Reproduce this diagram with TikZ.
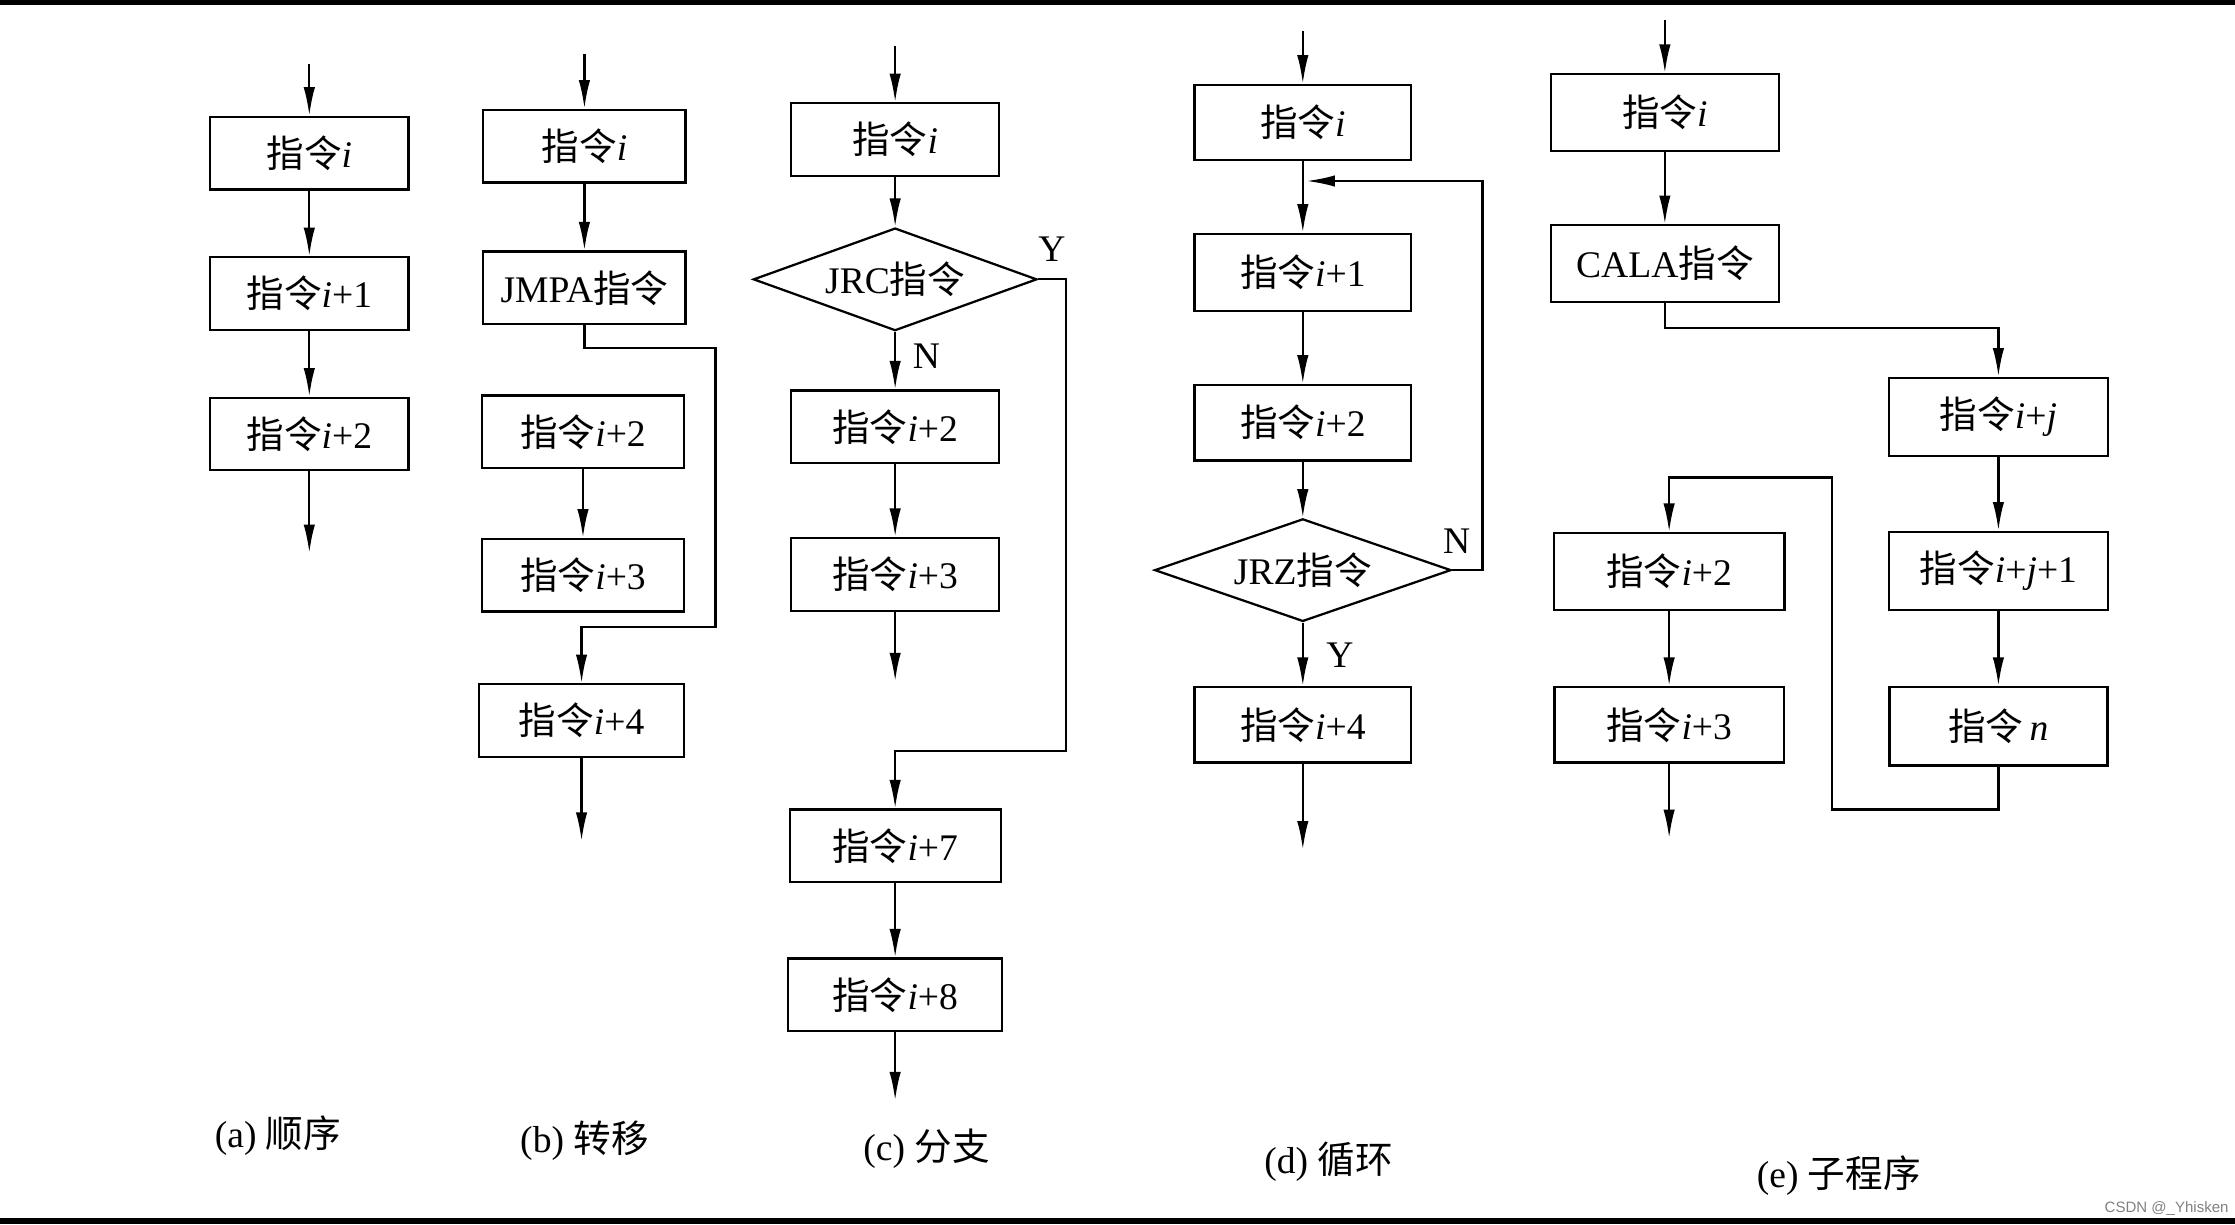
\documentclass[tikz,border=0pt]{standalone}
\usepackage{fontspec}
\setmainfont{Liberation Serif}
\newfontfamily\cjk{Noto Sans CJK SC}
\newfontfamily\wmfont{Liberation Sans}
\usepackage{tikz}
\usetikzlibrary{arrows.meta}
\usetikzlibrary{positioning}
\usetikzlibrary{shapes.geometric}

\newcommand{\zl}{{\cjk 指令}}

\tikzset{
    instr/.style={draw,rectangle,line width=0.9pt,minimum height=1.02cm,inner sep=2pt},
    cond/.style={draw,diamond,aspect=2.8,line width=0.9pt,inner sep=0pt},
    link/.style={line width=0.9pt},
    arr/.style={link,-{Latex[length=4mm,width=1.6mm]}}
}

\begin{document}
\begin{tikzpicture}[font=\fontsize{15}{18}\selectfont]
        \useasboundingbox (0,0) rectangle (31.36,17.18);
        \fill (0,17.11) rectangle (31.36,17.18);
        \fill (0,0) rectangle (31.36,0.09);

        \node[instr,minimum width=2.78cm] (a1) at (4.34,15.03) {\zl\textit{i}};
        \node[instr,minimum width=2.78cm] (a2) at (4.34,13.06) {\zl\textit{i}+1};
        \node[instr,minimum width=2.78cm] (a3) at (4.34,11.09) {\zl\textit{i}+2};
        \coordinate (a0) at (4.34,16.28);
        \coordinate (a4) at (4.34,9.42);
        \draw[arr] (a0) -- (a1);
        \draw[arr] (a1) -- (a2);
        \draw[arr] (a2) -- (a3);
        \draw[arr] (a3) -- (a4);
        \node (capa) at (3.9,1.24) {(a) {\cjk 顺序}};

        \node[instr,minimum width=2.84cm] (b1) at (8.2,15.13) {\zl\textit{i}};
        \node[instr,minimum width=2.84cm] (b2) at (8.2,13.14) {JMPA\zl};
        \node[instr,minimum width=2.84cm] (b3) at (8.18,11.12) {\zl\textit{i}+2};
        \node[instr,minimum width=2.84cm] (b4) at (8.18,9.11) {\zl\textit{i}+3};
        \node[instr,minimum width=2.88cm] (b5) at (8.16,7.07) {\zl\textit{i}+4};
        \coordinate (b0) at (8.2,16.42);
        \coordinate (b6) at (8.16,5.38);
        \coordinate (bj1) at (10.04,12.3);
        \coordinate (bj2) at (10.04,8.38);
        \draw[arr] (b0) -- (b1);
        \draw[arr] (b1) -- (b2);
        \draw[arr] (b2.south) |- (bj1) -- (bj2) -| (b5.north);
        \draw[arr] (b3) -- (b4);
        \draw[arr] (b5) -- (b6);
        \node (capb) at (8.2,1.18) {(b) {\cjk 转移}};

        \node[instr,minimum width=2.92cm] (c1) at (12.56,15.22) {\zl\textit{i}};
        \node[cond,minimum width=3.98cm,minimum height=1.44cm] (c2) at (12.56,13.26) {JRC\zl};
        \node[instr,minimum width=2.92cm] (c3) at (12.56,11.19) {\zl\textit{i}+2};
        \node[instr,minimum width=2.92cm] (c4) at (12.56,9.12) {\zl\textit{i}+3};
        \node[instr,minimum width=2.96cm] (c6) at (12.56,5.31) {\zl\textit{i}+7};
        \node[instr,minimum width=3.0cm] (c7) at (12.56,3.22) {\zl\textit{i}+8};
        \coordinate (c0) at (12.56,16.54);
        \coordinate (c5) at (12.56,7.62);
        \coordinate (c8) at (12.56,1.74);
        \coordinate (cj) at (14.96,6.64);
        \draw[arr] (c0) -- (c1);
        \draw[arr] (c1) -- (c2);
        \draw[arr] (c2) -- (c3);
        \draw[arr] (c3) -- (c4);
        \draw[arr] (c4) -- (c5);
        \draw[arr] (c2.east) -| (cj) -| (c6.north);
        \draw[arr] (c6) -- (c7);
        \draw[arr] (c7) -- (c8);
        \node (cy) at (14.76,13.68) {Y};
        \node (cn) at (13.0,12.18) {N};
        \node (capc) at (13.0,1.06) {(c) {\cjk 分支}};

        \node[instr,minimum width=3.04cm,minimum height=1.06cm] (d1) at (18.28,15.46) {\zl\textit{i}};
        \node[instr,minimum width=3.04cm,minimum height=1.08cm] (d2) at (18.28,13.36) {\zl\textit{i}+1};
        \node[instr,minimum width=3.04cm,minimum height=1.06cm] (d3) at (18.28,11.25) {\zl\textit{i}+2};
        \node[cond,minimum width=4.16cm,minimum height=1.44cm] (d4) at (18.28,9.18) {JRZ\zl};
        \node[instr,minimum width=3.04cm,minimum height=1.06cm] (d5) at (18.28,7.01) {\zl\textit{i}+4};
        \coordinate (d0) at (18.28,16.74);
        \coordinate (d6) at (18.28,5.26);
        \coordinate (dl) at (20.8,14.64);
        \coordinate (din) at (18.33,14.64);
        \draw[arr] (d0) -- (d1);
        \draw[arr] (d1) -- (d2);
        \draw[arr] (d2) -- (d3);
        \draw[arr] (d3) -- (d4);
        \draw[arr] (d4) -- (d5);
        \draw[arr] (d5) -- (d6);
        \draw[arr] (d4.east) -| (dl) -- (din);
        \node (dn) at (20.44,9.58) {N};
        \node (dy) at (18.8,7.98) {Y};
        \node (capd) at (18.64,0.88) {(d) {\cjk 循环}};

        \node[instr,minimum width=3.2cm,minimum height=1.08cm] (e1) at (23.36,15.6) {\zl\textit{i}};
        \node[instr,minimum width=3.2cm,minimum height=1.08cm] (e2) at (23.36,13.48) {CALA\zl};
        \node[instr,minimum width=3.08cm,minimum height=1.1cm] (e3) at (28.04,11.33) {\zl\textit{i}+\textit{j}};
        \node[instr,minimum width=3.08cm,minimum height=1.1cm] (e4) at (28.04,9.17) {\zl\textit{i}+\textit{j}+1};
        \node[instr,minimum width=3.06cm,minimum height=1.1cm] (e5) at (28.04,6.99) {\zl\,\textit{n}};
        \node[instr,minimum width=3.24cm,minimum height=1.08cm] (e6) at (23.42,9.16) {\zl\textit{i}+2};
        \node[instr,minimum width=3.22cm,minimum height=1.06cm] (e7) at (23.42,7.01) {\zl\textit{i}+3};
        \coordinate (e0) at (23.36,16.9);
        \coordinate (e8) at (23.42,5.42);
        \coordinate (ec) at (28.04,12.58);
        \coordinate (er1) at (25.7,5.82);
        \coordinate (er2) at (25.7,10.48);
        \draw[arr] (e0) -- (e1);
        \draw[arr] (e1) -- (e2);
        \draw[arr] (e2.south) |- (ec) -- (e3.north);
        \draw[arr] (e3) -- (e4);
        \draw[arr] (e4) -- (e5);
        \draw[arr] (e5.south) |- (er1) -- (er2) -| (e6.north);
        \draw[arr] (e6) -- (e7);
        \draw[arr] (e7) -- (e8);
        \node (cape) at (25.8,0.68) {(e) {\cjk 子程序}};

        \node[font=\wmfont\fontsize{6}{7}\selectfont,text=gray] (wm) at (30.4,0.22) {CSDN @\_Yhisken};
\end{tikzpicture}
\end{document}
